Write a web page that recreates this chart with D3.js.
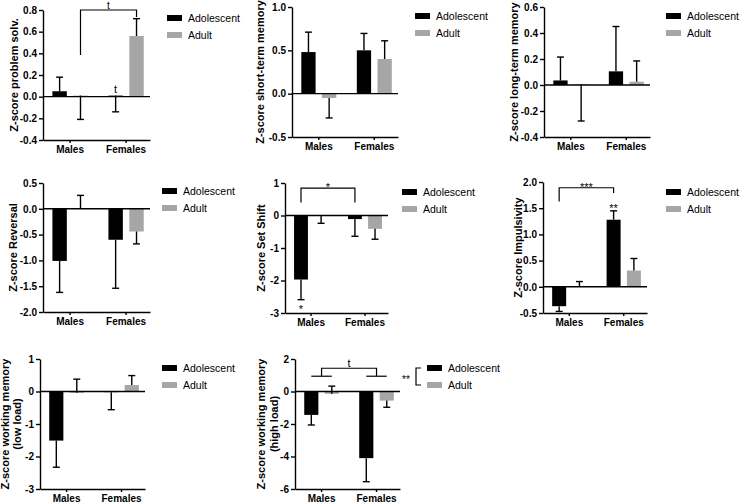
<!DOCTYPE html>
<html>
<head>
<meta charset="utf-8">
<script src="https://cdn.jsdelivr.net/npm/d3@7"></script>
<style>
  body { margin: 0; background: #fff; }
  svg { display: block; }
  text { font-family: Arial, "Liberation Sans", sans-serif; fill: #000; }
</style>
</head>
<body>
<svg id="chart" width="740" height="503"></svg>
<script>
const categories = ["Males", "Females"];
const series = ["Adolescent", "Adult"];

// rows: Males, Females; columns: Adolescent, Adult. err = end point of the error bar
const problemMean = [[0.05, 0.01], [0.01, 0.56]];
const problemErr = [[0.18, -0.21], [-0.14, 0.72]];
const stmMean = [[0.48, -0.05], [0.50, 0.40]];
const stmErr = [[0.71, -0.28], [0.695, 0.61]];
const ltmMean = [[0.035, 0.005], [0.105, 0.025]];
const ltmErr = [[0.215, -0.277], [0.45, 0.185]];
const reversalMean = [[-1.01, 0.005], [-0.60, -0.44]];
const reversalErr = [[-1.62, 0.26], [-1.54, -0.68]];
const setShiftMean = [[-1.97, -0.01], [-0.11, -0.41]];
const setShiftErr = [[-2.59, -0.24], [-0.64, -0.73]];
const impulsMean = [[-0.37, 0.005], [1.28, 0.31]];
const impulsErr = [[-0.47, 0.10], [1.45, 0.54]];
const wmLowMean = [[-1.51, -0.04], [-0.02, 0.20]];
const wmLowErr = [[-2.33, 0.38], [-0.56, 0.49]];
const wmHighMean = [[-1.44, -0.14], [-4.10, -0.56]];
const wmHighErr = [[-2.06, 0.33], [-5.55, -0.97]];

const problemTicks = [-0.4, -0.2, 0, 0.2, 0.4, 0.6, 0.8];
const stmTicks = [-0.5, 0, 0.5, 1.0];
const ltmTicks = [-0.4, -0.2, 0, 0.2, 0.4, 0.6];
const reversalTicks = [-2.0, -1.5, -1.0, -0.5, 0, 0.5];
const setShiftTicks = [-3, -2, -1, 0, 1];
const impulsTicks = [-0.5, 0, 0.5, 1.0, 1.5, 2.0];
const wmLowTicks = [-3, -2, -1, 0, 1];
const wmHighTicks = [-6, -4, -2, 0, 2];

const colors = { Adolescent: "#000000", Adult: "#a6a6a6" };

const panels = [
  { label: ["Z-score problem solv."], mean: problemMean, err: problemErr, ticks: problemTicks, fmt: ".1f",
    box: { x0: 43, x1: 150, y0: 10, y1: 140 }, labelX: [14], legend: { x: 167, y: 18 },
    brackets: [{ a: ["Males", "Adult"], b: ["Females", "Adult"], ya: 0.385, top: 0.80, yb: 0.735, text: "t", star: false }],
    marks: [{ at: ["Females", "Adolescent"], side: "above", text: "t", star: false }] },
  { label: ["Z-score short-term memory"], mean: stmMean, err: stmErr, ticks: stmTicks, fmt: ".1f",
    box: { x0: 292, x1: 398, y0: 7, y1: 137 }, labelX: [260], legend: { x: 415, y: 16 } },
  { label: ["Z-score long-term memory"], mean: ltmMean, err: ltmErr, ticks: ltmTicks, fmt: ".1f",
    box: { x0: 544, x1: 650, y0: 7, y1: 137 }, labelX: [514], legend: { x: 666, y: 16 } },
  { label: ["Z-score Reversal"], mean: reversalMean, err: reversalErr, ticks: reversalTicks, fmt: ".1f",
    box: { x0: 43, x1: 150, y0: 183, y1: 312 }, labelX: [13], legend: { x: 162, y: 191 } },
  { label: ["Z-score Set Shift"], mean: setShiftMean, err: setShiftErr, ticks: setShiftTicks, fmt: "d",
    box: { x0: 285, x1: 388, y0: 183, y1: 313 }, labelX: [261], legend: { x: 402, y: 192 },
    brackets: [{ a: ["Males", "Adolescent"], b: ["Females", "Adolescent"], ya: 0.40, top: 0.845, yb: 0.40, text: "*", star: true }],
    marks: [{ at: ["Males", "Adolescent"], side: "below", text: "*", star: true }] },
  { label: ["Z-score Impulsivity"], mean: impulsMean, err: impulsErr, ticks: impulsTicks, fmt: ".1f",
    box: { x0: 543, x1: 647, y0: 182, y1: 313 }, labelX: [518], legend: { x: 666, y: 192 },
    brackets: [{ a: ["Males", "Adolescent"], b: ["Females", "Adolescent"], ya: 1.63, top: 1.89, yb: 1.79, text: "***", star: true }],
    marks: [{ at: ["Females", "Adolescent"], side: "above", text: "**", star: true }] },
  { label: ["Z-score working memory", "(low load)"], mean: wmLowMean, err: wmLowErr, ticks: wmLowTicks, fmt: "d",
    box: { x0: 40, x1: 145, y0: 359, y1: 489 }, labelX: [5, 17], legend: { x: 162, y: 368 } },
  { label: ["Z-score working memory", "(high load)"], mean: wmHighMean, err: wmHighErr, ticks: wmHighTicks, fmt: "d",
    box: { x0: 295, x1: 400, y0: 359, y1: 489 }, labelX: [261, 274], legend: { x: 427, y: 368, bracket: "**" },
    groupBracket: { low: 0.94, top: 1.43, text: "t" } }
];

const svg = d3.select("#chart");

function starText(g, x, cy, txt, size) {
  // centre of an asterisk glyph sits about 0.57em above the baseline
  g.append("text").attr("x", x).attr("y", cy + 0.57 * size)
    .attr("text-anchor", "middle").attr("font-size", size).attr("fill", "#000").text(txt);
}

panels.forEach(p => {
  const g = svg.append("g");
  const b = p.box;

  const y = d3.scaleLinear().domain(d3.extent(p.ticks)).range([b.y1, b.y0]);
  const gx = d3.scaleBand().domain(categories).range([b.x0, b.x1])
    .paddingInner(0.37).paddingOuter(0.14).align(0.6);
  const sx = d3.scaleBand().domain(series).range([0, gx.bandwidth()]).paddingInner(0.31);
  const cx = (c, s) => gx(c) + sx(s) + sx.bandwidth() / 2;

  const rows = [];
  categories.forEach((c, i) => series.forEach((s, j) => {
    rows.push({ c, s, mean: p.mean[i][j], err: p.err[i][j] });
  }));

  // bars
  g.selectAll("rect.bar").data(rows).join("rect")
    .attr("class", "bar")
    .attr("x", d => gx(d.c) + sx(d.s))
    .attr("width", sx.bandwidth())
    .attr("y", d => Math.min(y(d.mean), y(0)))
    .attr("height", d => Math.abs(y(d.mean) - y(0)))
    .attr("fill", d => colors[d.s]);

  // error bars
  const eb = g.selectAll("g.err").data(rows).join("g").attr("class", "err")
    .attr("stroke", "#000").attr("stroke-width", 1.4);
  eb.append("line")
    .attr("x1", d => cx(d.c, d.s)).attr("x2", d => cx(d.c, d.s))
    .attr("y1", d => y(d.mean)).attr("y2", d => y(d.err));
  eb.append("line")
    .attr("x1", d => cx(d.c, d.s) - 3.5).attr("x2", d => cx(d.c, d.s) + 3.5)
    .attr("y1", d => y(d.err)).attr("y2", d => y(d.err));

  // zero line
  g.append("line").attr("x1", b.x0).attr("x2", b.x1)
    .attr("y1", y(0)).attr("y2", y(0))
    .attr("stroke", "#000").attr("stroke-width", 1.4);

  // axes
  const fmt = d3.format(p.fmt);
  const ya = g.append("g").attr("transform", `translate(${b.x0},0)`)
    .call(d3.axisLeft(y).tickValues(p.ticks).tickSize(4).tickSizeOuter(0).tickPadding(2)
      .tickFormat(d => fmt(d).replace("\u2212", "-")));
  const xa = g.append("g").attr("transform", `translate(0,${b.y1})`)
    .call(d3.axisBottom(gx).tickSizeInner(3).tickSizeOuter(0).tickPadding(3));
  [ya, xa].forEach(a => {
    a.selectAll("path, line").attr("stroke", "#000").attr("stroke-width", 1.4);
    a.selectAll("text").attr("fill", "#000").attr("font-size", 10).attr("font-weight", "bold")
      .attr("font-family", "Arial, 'Liberation Sans', sans-serif");
  });

  // y label
  const yc = (b.y0 + b.y1) / 2;
  p.label.forEach((t, i) => {
    g.append("text")
      .attr("transform", `translate(${p.labelX[i]},${yc}) rotate(-90)`)
      .attr("text-anchor", "middle").attr("dominant-baseline", "central")
      .attr("font-size", 11).attr("font-weight", "bold").text(t);
  });

  // legend
  const L = p.legend;
  series.forEach((s, i) => {
    const ly = L.y + i * 17;
    g.append("rect").attr("x", L.x).attr("y", ly - 3).attr("width", 15).attr("height", 6)
      .attr("fill", colors[s]);
    g.append("text").attr("x", L.x + 21).attr("y", ly).attr("dy", "0.35em")
      .attr("font-size", 10.5).text(s);
  });
  if (L.bracket) {
    const bx = L.x - 11;
    g.append("path")
      .attr("d", `M${bx + 5},${L.y} H${bx} V${L.y + 17} H${bx + 5}`)
      .attr("fill", "none").attr("stroke", "#000").attr("stroke-width", 1.2);
    starText(g, bx - 10, L.y + 9, L.bracket, 10);
  }

  // significance brackets
  (p.brackets || []).forEach(k => {
    const xa0 = cx(k.a[0], k.a[1]), xb0 = cx(k.b[0], k.b[1]);
    g.append("path")
      .attr("d", d3.line()([[xa0, y(k.ya)], [xa0, y(k.top)], [xb0, y(k.top)], [xb0, y(k.yb)]]))
      .attr("fill", "none").attr("stroke", "#000").attr("stroke-width", 1.2);
    const mx = (xa0 + xb0) / 2;
    if (k.star) starText(g, mx, y(k.top) - 3.5, k.text, 11);
    else g.append("text").attr("x", mx).attr("y", y(k.top) - 0.8).attr("text-anchor", "middle")
      .attr("font-size", 10).text(k.text);
  });

  (p.marks || []).forEach(m => {
    const i = categories.indexOf(m.at[0]), j = series.indexOf(m.at[1]);
    const x = cx(m.at[0], m.at[1]);
    if (m.side === "above") {
      const top = Math.max(p.mean[i][j], p.err[i][j]);
      if (m.star) starText(g, x, y(top) - 5, m.text, 11);
      else g.append("text").attr("x", x).attr("y", y(top) - 3).attr("text-anchor", "middle")
        .attr("font-size", 11).text(m.text);
    } else {
      const bot = Math.min(p.mean[i][j], p.err[i][j]);
      starText(g, x, y(bot) + 7, m.text, 11);
    }
  });

  if (p.groupBracket) {
    const k = p.groupBracket;
    const centers = categories.map(c => gx(c) + gx.bandwidth() / 2);
    categories.forEach(c => {
      g.append("line").attr("x1", cx(c, series[0])).attr("x2", cx(c, series[1]))
        .attr("y1", y(k.low)).attr("y2", y(k.low))
        .attr("stroke", "#000").attr("stroke-width", 1.2);
    });
    g.append("path")
      .attr("d", d3.line()([[centers[0], y(k.low)], [centers[0], y(k.top)], [centers[1], y(k.top)], [centers[1], y(k.low)]]))
      .attr("fill", "none").attr("stroke", "#000").attr("stroke-width", 1.2);
    g.append("text").attr("x", (centers[0] + centers[1]) / 2).attr("y", y(k.top) - 1.5)
      .attr("text-anchor", "middle").attr("font-size", 11).text(k.text);
  }
});
</script>
</body>
</html>
